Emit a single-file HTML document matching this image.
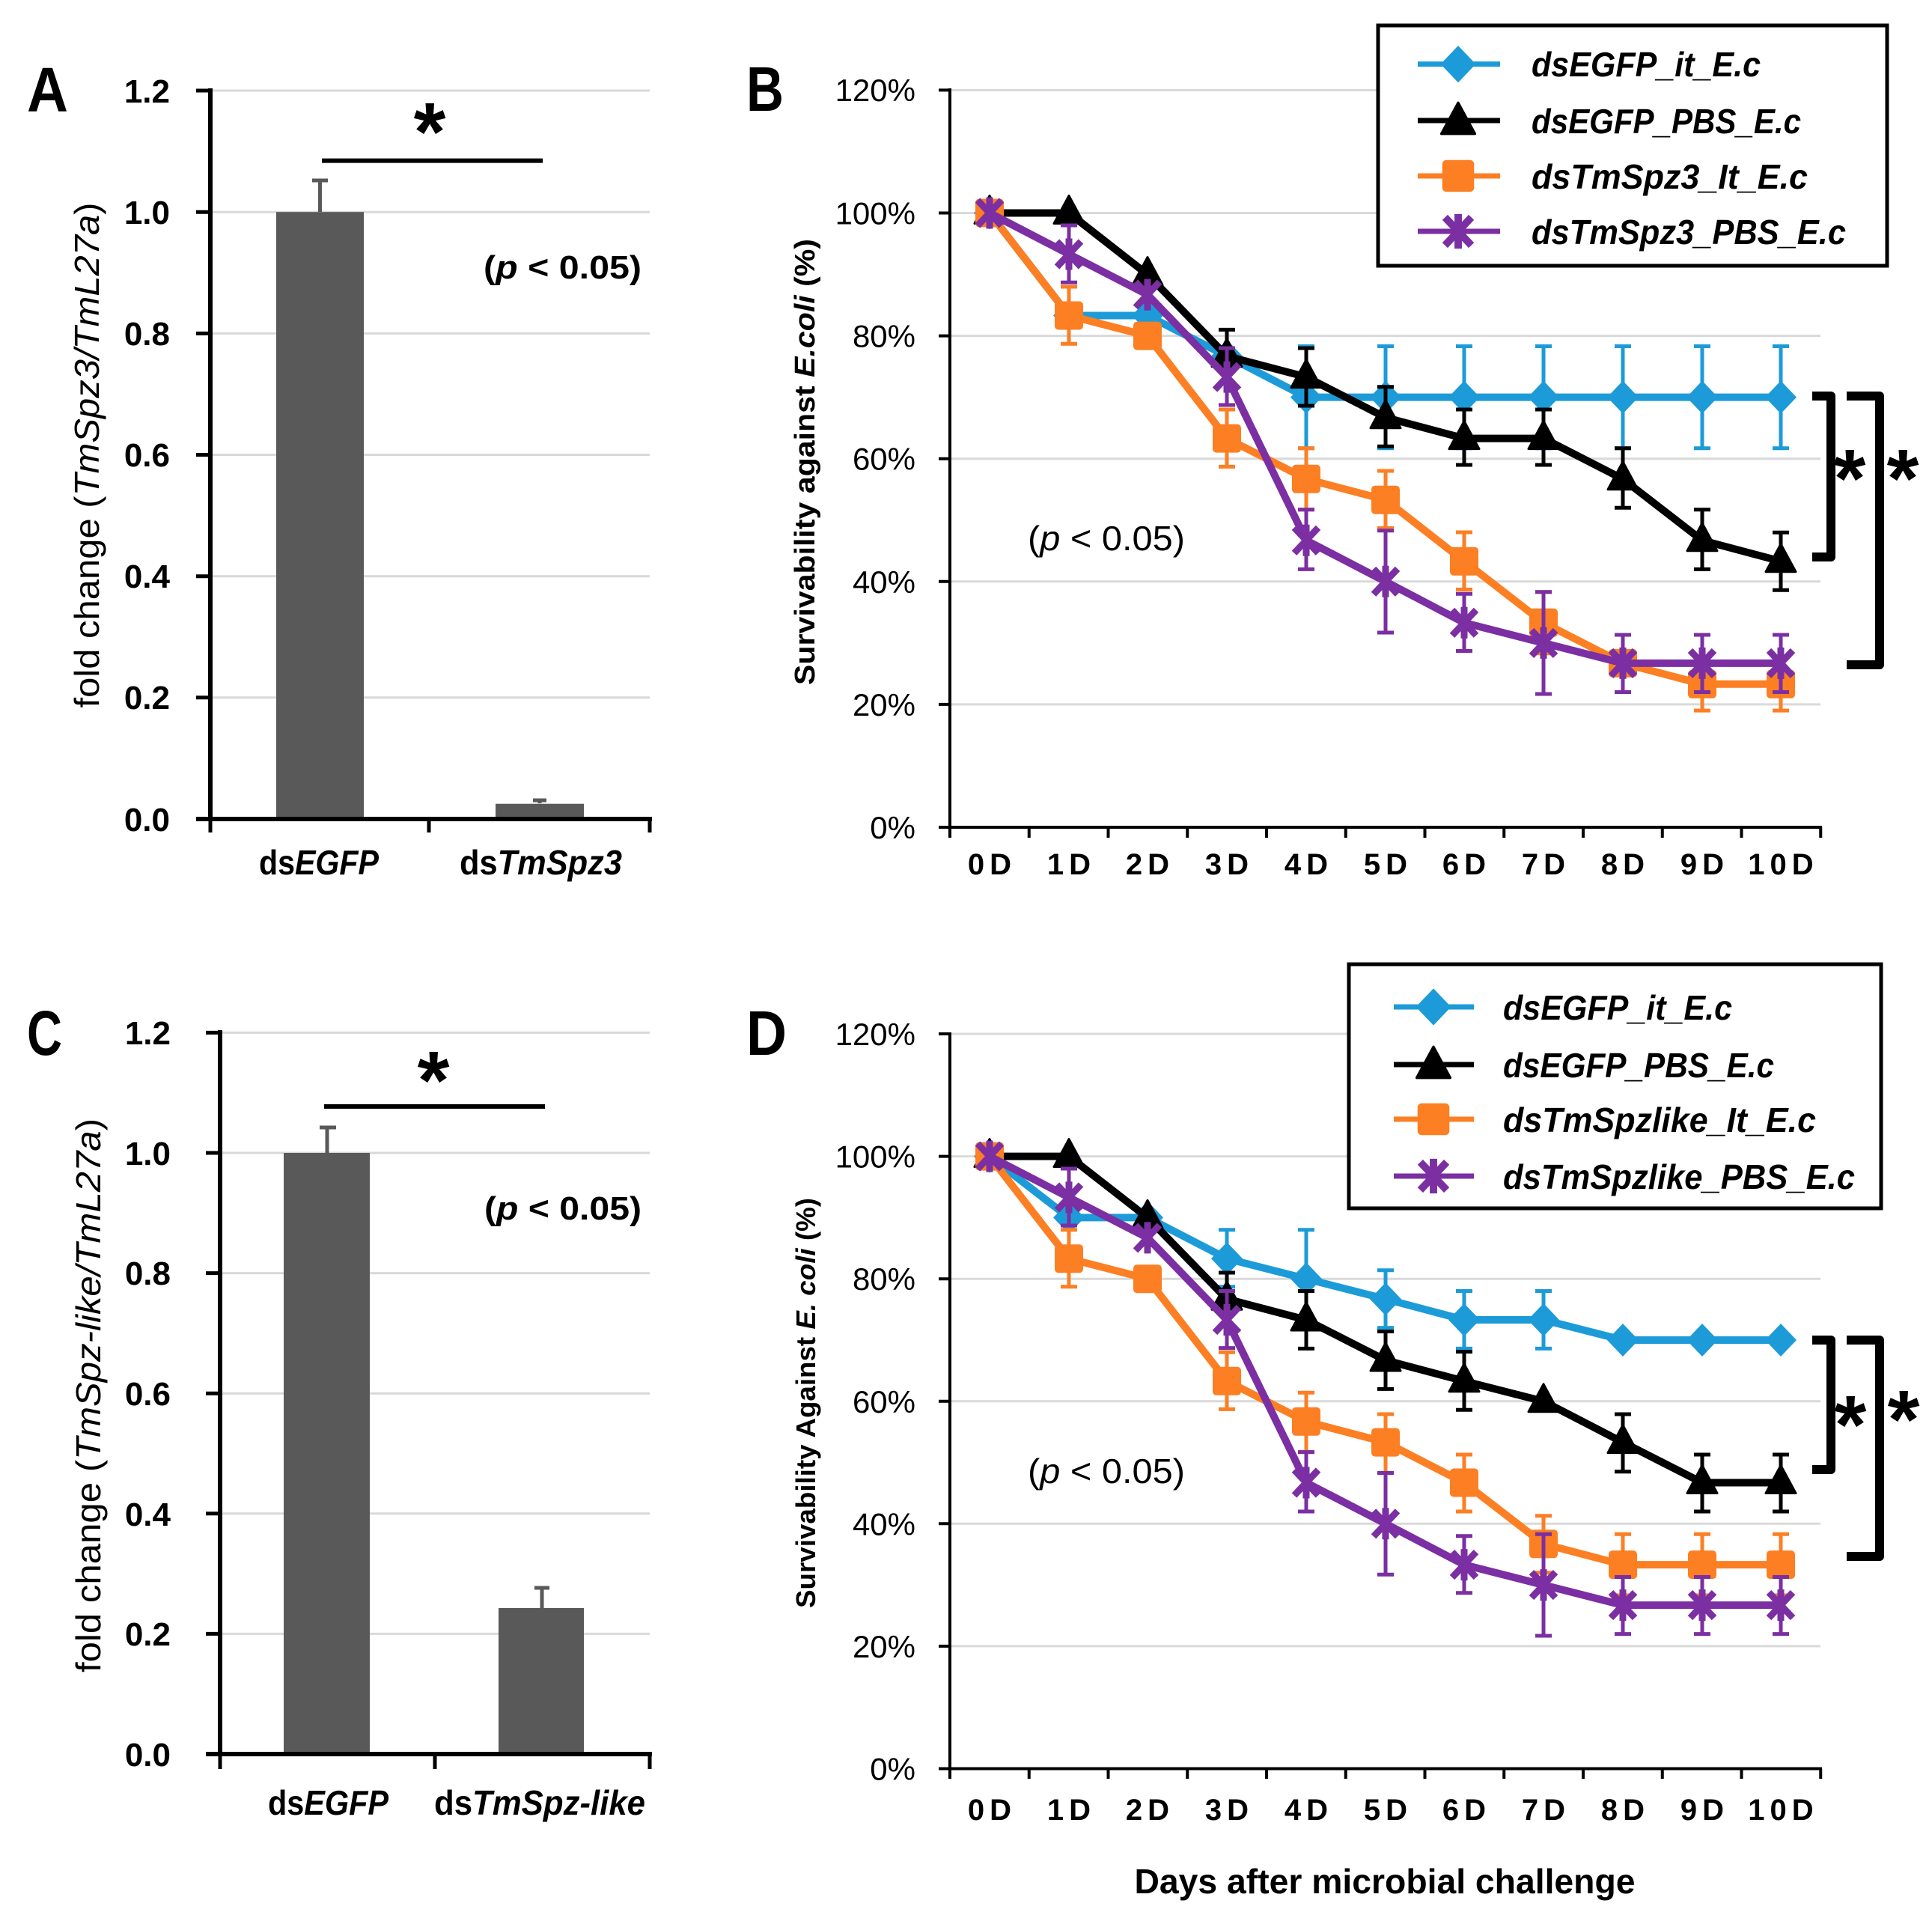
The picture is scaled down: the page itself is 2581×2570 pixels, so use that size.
<!DOCTYPE html>
<html><head><meta charset="utf-8"><style>
html,body{margin:0;padding:0;background:#fff}
svg{display:block}
text{font-family:"Liberation Sans",Arial,sans-serif}
</style></head><body>
<svg xmlns="http://www.w3.org/2000/svg" xmlns:xlink="http://www.w3.org/1999/xlink" width="2581" height="2570" viewBox="0 0 2581 2570">
<rect width="2581" height="2570" fill="#fff"/>
<defs>
<path id="mC" d="M0,-22 L21,0 L0,22 L-21,0Z" fill="#1d9bd8"/>
<path id="mK" d="M0,-23 L20,14 L-20,14Z" fill="#000" stroke="#000" stroke-width="3" stroke-linejoin="round"/>
<rect id="mO" x="-19" y="-19" width="38" height="38" rx="5" fill="#fc7f24"/>
<path id="mP" d="M-16,-17L16,17M16,-17L-16,17M0,-21V21" stroke="#7b2fa2" stroke-width="9" fill="none"/>
</defs>

<!-- ================= PANEL A ================= -->
<g stroke="#d9d9d9" stroke-width="3">
<line x1="281" y1="121" x2="868" y2="121"/>
<line x1="281" y1="283.2" x2="868" y2="283.2"/>
<line x1="281" y1="445.4" x2="868" y2="445.4"/>
<line x1="281" y1="607.5" x2="868" y2="607.5"/>
<line x1="281" y1="769.7" x2="868" y2="769.7"/>
<line x1="281" y1="931.8" x2="868" y2="931.8"/>
</g>
<rect x="369" y="283.2" width="117" height="810.8" fill="#595959"/>
<rect x="662" y="1073.7" width="118" height="20.3" fill="#595959"/>
<path d="M427.5,283V241M417,241H438M721,1073V1069M712,1069H730" stroke="#595959" stroke-width="5" fill="none"/>
<g stroke="#000" fill="none">
<line x1="281" y1="118" x2="281" y2="1097" stroke-width="6"/>
<path d="M262,121H281M262,283.2H281M262,445.4H281M262,607.5H281M262,769.7H281M262,931.8H281" stroke-width="5"/>
<line x1="262" y1="1094" x2="871" y2="1094" stroke-width="6"/>
<path d="M281,1094V1112M573,1094V1112M868,1094V1112" stroke-width="5"/>
<line x1="430" y1="214.6" x2="725" y2="214.6" stroke-width="6"/>
</g>
<g font-size="44" font-weight="bold" text-anchor="end" fill="#000">
<text x="227" y="137">1.2</text>
<text x="227" y="299">1.0</text>
<text x="227" y="461">0.8</text>
<text x="227" y="623">0.6</text>
<text x="227" y="785">0.4</text>
<text x="227" y="947">0.2</text>
<text x="227" y="1110">0.0</text>
</g>
<text x="574" y="214" font-size="110" font-weight="bold" text-anchor="middle">*</text>
<text x="646" y="372" font-size="44" font-weight="bold" textLength="211" lengthAdjust="spacingAndGlyphs">(<tspan font-style="italic">p</tspan> &lt; 0.05)</text>
<text x="346" y="1168" font-size="46" font-weight="bold" textLength="160" lengthAdjust="spacingAndGlyphs">ds<tspan font-style="italic">EGFP</tspan></text>
<text x="614" y="1168" font-size="46" font-weight="bold" textLength="217" lengthAdjust="spacingAndGlyphs">ds<tspan font-style="italic">TmSpz3</tspan></text>
<text transform="translate(132,608) rotate(-90)" font-size="46" text-anchor="middle" textLength="675" lengthAdjust="spacingAndGlyphs">fold change (<tspan font-style="italic">TmSpz3/TmL27a</tspan>)</text>
<text x="36" y="149" font-size="84" font-weight="bold" textLength="55" lengthAdjust="spacingAndGlyphs">A</text>

<!-- ================= PANEL C ================= -->
<g stroke="#d9d9d9" stroke-width="3">
<line x1="294" y1="1379.4" x2="868" y2="1379.4"/>
<line x1="294" y1="1540" x2="868" y2="1540"/>
<line x1="294" y1="1700.6" x2="868" y2="1700.6"/>
<line x1="294" y1="1861.2" x2="868" y2="1861.2"/>
<line x1="294" y1="2021.8" x2="868" y2="2021.8"/>
<line x1="294" y1="2182.4" x2="868" y2="2182.4"/>
</g>
<rect x="379" y="1540" width="115" height="803" fill="#595959"/>
<rect x="666" y="2148" width="114" height="195" fill="#595959"/>
<path d="M437,1540V1506M427,1506H449M724,2148V2121M714,2121H734" stroke="#595959" stroke-width="5" fill="none"/>
<g stroke="#000" fill="none">
<line x1="294" y1="1376" x2="294" y2="2346" stroke-width="6"/>
<path d="M275,1379.4H294M275,1540H294M275,1700.6H294M275,1861.2H294M275,2021.8H294M275,2182.4H294" stroke-width="5"/>
<line x1="275" y1="2343" x2="871" y2="2343" stroke-width="6"/>
<path d="M294,2343V2363M581,2343V2363M868,2343V2363" stroke-width="5"/>
<line x1="433" y1="1478" x2="728" y2="1478" stroke-width="6"/>
</g>
<g font-size="44" font-weight="bold" text-anchor="end" fill="#000">
<text x="228" y="1395">1.2</text>
<text x="228" y="1556">1.0</text>
<text x="228" y="1716">0.8</text>
<text x="228" y="1877">0.6</text>
<text x="228" y="2038">0.4</text>
<text x="228" y="2198">0.2</text>
<text x="228" y="2359">0.0</text>
</g>
<text x="579" y="1481" font-size="110" font-weight="bold" text-anchor="middle">*</text>
<text x="647" y="1629" font-size="44" font-weight="bold" textLength="210" lengthAdjust="spacingAndGlyphs">(<tspan font-style="italic">p</tspan> &lt; 0.05)</text>
<text x="358" y="2424" font-size="46" font-weight="bold" textLength="161" lengthAdjust="spacingAndGlyphs">ds<tspan font-style="italic">EGFP</tspan></text>
<text x="580" y="2424" font-size="46" font-weight="bold" textLength="282" lengthAdjust="spacingAndGlyphs">ds<tspan font-style="italic">TmSpz-like</tspan></text>
<text transform="translate(134,1864) rotate(-90)" font-size="46" text-anchor="middle" textLength="740" lengthAdjust="spacingAndGlyphs">fold change (<tspan font-style="italic">TmSpz-like/TmL27a</tspan>)</text>
<text x="36" y="1409" font-size="84" font-weight="bold" textLength="47" lengthAdjust="spacingAndGlyphs">C</text>

<!-- ================= PANEL B ================= -->
<g stroke="#d9d9d9" stroke-width="3">
<line x1="1269" y1="120.4" x2="2432" y2="120.4"/>
<line x1="1269" y1="284.5" x2="2432" y2="284.5"/>
<line x1="1269" y1="448.6" x2="2432" y2="448.6"/>
<line x1="1269" y1="612.7" x2="2432" y2="612.7"/>
<line x1="1269" y1="776.8" x2="2432" y2="776.8"/>
<line x1="1269" y1="940.9" x2="2432" y2="940.9"/>
</g>
<g stroke="#000" fill="none">
<line x1="1269" y1="118" x2="1269" y2="1107" stroke-width="4"/>
<path d="M1254,120.4H1269M1254,284.5H1269M1254,448.6H1269M1254,612.7H1269M1254,776.8H1269M1254,940.9H1269" stroke-width="4"/>
<line x1="1254" y1="1105" x2="2434" y2="1105" stroke-width="4"/>
<path d="M1269,1105V1119M1374.75,1105V1119M1480.5,1105V1119M1586.25,1105V1119M1692,1105V1119M1797.75,1105V1119M1903.5,1105V1119M2009.25,1105V1119M2115,1105V1119M2220.75,1105V1119M2326.5,1105V1119M2432.25,1105V1119" stroke-width="4"/>
</g>
<g font-size="42" text-anchor="end">
<text x="1223" y="135">120%</text>
<text x="1223" y="299.5">100%</text>
<text x="1223" y="463.6">80%</text>
<text x="1223" y="627.7">60%</text>
<text x="1223" y="791.8">40%</text>
<text x="1223" y="955.9">20%</text>
<text x="1223" y="1120">0%</text>
</g>
<g font-size="40" font-weight="bold" text-anchor="middle" letter-spacing="7">
<text x="1325.5" y="1168">0D</text>
<text x="1431.5" y="1168">1D</text>
<text x="1536.5" y="1168">2D</text>
<text x="1642.5" y="1168">3D</text>
<text x="1748.5" y="1168">4D</text>
<text x="1854.5" y="1168">5D</text>
<text x="1959.5" y="1168">6D</text>
<text x="2065.5" y="1168">7D</text>
<text x="2171.5" y="1168">8D</text>
<text x="2277.5" y="1168">9D</text>
<text x="2382.5" y="1168">10D</text>
</g>
<text transform="translate(1088,617) rotate(-90)" font-size="38" font-weight="bold" text-anchor="middle" textLength="596" lengthAdjust="spacingAndGlyphs">Survivability against <tspan font-style="italic">E.coli</tspan> (%)</text>
<text x="1373" y="735" font-size="46" textLength="210" lengthAdjust="spacingAndGlyphs">(<tspan font-style="italic">p</tspan> &lt; 0.05)</text>
<text x="997" y="148" font-size="84" font-weight="bold" textLength="50" lengthAdjust="spacingAndGlyphs">B</text>

<!-- B series -->
<g fill="none" stroke-linejoin="round">
<polyline points="1322,284.5 1428,421.5 1533,421.5 1639,475.7 1745,530.6 1851,530.6 1956,530.6 2062,530.6 2168,530.6 2274,530.6 2379,530.6" stroke="#1d9bd8" stroke-width="10"/>
<path d="M1745,462.5V598.8M1734,462.5h22M1734,598.8h22M1851,462.5V598.8M1840,462.5h22M1840,598.8h22M1956,462.5V598.8M1945,462.5h22M1945,598.8h22M2062,462.5V598.8M2051,462.5h22M2051,598.8h22M2168,462.5V598.8M2157,462.5h22M2157,598.8h22M2274,462.5V598.8M2263,462.5h22M2263,598.8h22M2379,462.5V598.8M2368,462.5h22M2368,598.8h22" stroke="#1d9bd8" stroke-width="5"/>
</g>
<g>
<use xlink:href="#mC" x="1322" y="284.5"/><use xlink:href="#mC" x="1428" y="421.5"/><use xlink:href="#mC" x="1533" y="421.5"/><use xlink:href="#mC" x="1639" y="475.7"/><use xlink:href="#mC" x="1745" y="530.6"/><use xlink:href="#mC" x="1851" y="530.6"/><use xlink:href="#mC" x="1956" y="530.6"/><use xlink:href="#mC" x="2062" y="530.6"/><use xlink:href="#mC" x="2168" y="530.6"/><use xlink:href="#mC" x="2274" y="530.6"/><use xlink:href="#mC" x="2379" y="530.6"/>
</g>
<g fill="none" stroke-linejoin="round">
<polyline points="1322,284.5 1428,284.5 1533,366.6 1639,475.7 1745,503.6 1851,557.7 1956,585.6 2062,585.6 2168,639.8 2274,721.8 2379,749.7" stroke="#000" stroke-width="10"/>
<path d="M1639,440.4V511.8M1628,440.4h22M1745,465V542M1734,465h22M1734,542h22M1851,516.7V596.3M1840,516.7h22M1840,596.3h22M1956,547V621M1945,547h22M1945,621h22M2062,547V621M2051,547h22M2051,621h22M2168,598.8V678.3M2157,598.8h22M2157,678.3h22M2274,680.8V760.4M2263,680.8h22M2263,760.4h22M2379,711.2V788.3M2368,711.2h22M2368,788.3h22" stroke="#000" stroke-width="5"/>
</g>
<g>
<use xlink:href="#mK" x="1322" y="284.5"/><use xlink:href="#mK" x="1428" y="284.5"/><use xlink:href="#mK" x="1533" y="366.6"/><use xlink:href="#mK" x="1639" y="475.7"/><use xlink:href="#mK" x="1745" y="503.6"/><use xlink:href="#mK" x="1851" y="557.7"/><use xlink:href="#mK" x="1956" y="585.6"/><use xlink:href="#mK" x="2062" y="585.6"/><use xlink:href="#mK" x="2168" y="639.8"/><use xlink:href="#mK" x="2274" y="721.8"/><use xlink:href="#mK" x="2379" y="749.7"/>
</g>
<g fill="none" stroke-linejoin="round">
<polyline points="1322,284.5 1428,421.5 1533,448.6 1639,585.6 1745,639.8 1851,667.7 1956,749.7 2062,831.8 2168,885.9 2274,913.8 2379,913.8" stroke="#fc7f24" stroke-width="10"/>
<path d="M1428,383V459.3M1417,383h22M1417,459.3h22M1639,547V623.4M1628,547h22M1628,623.4h22M1745,598.8V680.8M1734,598.8h22M1734,680.8h22M1851,629V705.4M1840,629h22M1840,705.4h22M1956,711V787.5M1945,711h22M1945,787.5h22M2062,790.7V872.8M2051,790.7h22M2051,872.8h22M2168,848V924.5M2157,848h22M2157,924.5h22M2274,877.7V949.1M2263,877.7h22M2263,949.1h22M2379,877.7V949.1M2368,877.7h22M2368,949.1h22" stroke="#fc7f24" stroke-width="5"/>
</g>
<g>
<use xlink:href="#mO" x="1322" y="284.5"/><use xlink:href="#mO" x="1428" y="421.5"/><use xlink:href="#mO" x="1533" y="448.6"/><use xlink:href="#mO" x="1639" y="585.6"/><use xlink:href="#mO" x="1745" y="639.8"/><use xlink:href="#mO" x="1851" y="667.7"/><use xlink:href="#mO" x="1956" y="749.7"/><use xlink:href="#mO" x="2062" y="831.8"/><use xlink:href="#mO" x="2168" y="885.9"/><use xlink:href="#mO" x="2274" y="913.8"/><use xlink:href="#mO" x="2379" y="913.8"/>
</g>
<g fill="none" stroke-linejoin="round">
<polyline points="1322,284.5 1428,339.5 1533,393.6 1639,503.6 1745,721.8 1851,776.8 1956,831.8 2062,858.9 2168,885.9 2274,885.9 2379,885.9" stroke="#7b2fa2" stroke-width="10"/>
<path d="M1428,301V377.2M1417,301h22M1417,377.2h22M1639,465V541M1628,465h22M1628,541h22M1745,680.8V760.4M1734,680.8h22M1734,760.4h22M1851,708.7V845M1840,708.7h22M1840,845h22M1956,793.2V869.5M1945,793.2h22M1945,869.5h22M2062,790.7V927M2051,790.7h22M2051,927h22M2168,848V924.5M2157,848h22M2157,924.5h22M2274,848V924.5M2263,848h22M2263,924.5h22M2379,848V924.5M2368,848h22M2368,924.5h22" stroke="#7b2fa2" stroke-width="5"/>
</g>
<g>
<use xlink:href="#mP" x="1322" y="284.5"/><use xlink:href="#mP" x="1428" y="339.5"/><use xlink:href="#mP" x="1533" y="393.6"/><use xlink:href="#mP" x="1639" y="503.6"/><use xlink:href="#mP" x="1745" y="721.8"/><use xlink:href="#mP" x="1851" y="776.8"/><use xlink:href="#mP" x="1956" y="831.8"/><use xlink:href="#mP" x="2062" y="858.9"/><use xlink:href="#mP" x="2168" y="885.9"/><use xlink:href="#mP" x="2274" y="885.9"/><use xlink:href="#mP" x="2379" y="885.9"/>
</g>
<!-- B brackets -->
<path d="M2421,529H2446V744H2421M2467,529H2511V888H2467" stroke="#000" stroke-width="12" fill="none" stroke-linejoin="round"/>
<text x="2471" y="677" font-size="110" font-weight="bold" text-anchor="middle">*</text>
<text x="2542" y="677" font-size="110" font-weight="bold" text-anchor="middle">*</text>
<!-- B legend -->
<rect x="1841" y="34" width="680" height="321" fill="#fff" stroke="#000" stroke-width="5"/>
<path d="M1894,85.6H2004" stroke="#1d9bd8" stroke-width="7"/>
<path d="M1894,161H2004" stroke="#000" stroke-width="7"/>
<path d="M1894,235H2004" stroke="#fc7f24" stroke-width="7"/>
<path d="M1894,309H2004" stroke="#7b2fa2" stroke-width="7"/>
<use xlink:href="#mC" transform="translate(1948,85.6) scale(1.12)"/>
<use xlink:href="#mK" transform="translate(1948,163) scale(1.12)"/>
<use xlink:href="#mO" transform="translate(1948,235) scale(1.12)"/>
<use xlink:href="#mP" transform="translate(1948,309) scale(1.1)"/>
<g font-size="46" font-weight="bold" font-style="italic">
<text x="2046" y="102" textLength="306" lengthAdjust="spacingAndGlyphs">dsEGFP_it_E.c</text>
<text x="2046" y="178" textLength="360" lengthAdjust="spacingAndGlyphs">dsEGFP_PBS_E.c</text>
<text x="2046" y="252" textLength="369" lengthAdjust="spacingAndGlyphs">dsTmSpz3_It_E.c</text>
<text x="2046" y="326" textLength="420" lengthAdjust="spacingAndGlyphs">dsTmSpz3_PBS_E.c</text>
</g>

<!-- ================= PANEL D ================= -->
<g stroke="#d9d9d9" stroke-width="3">
<line x1="1269" y1="1381" x2="2432" y2="1381"/>
<line x1="1269" y1="1544.6" x2="2432" y2="1544.6"/>
<line x1="1269" y1="1708.2" x2="2432" y2="1708.2"/>
<line x1="1269" y1="1871.8" x2="2432" y2="1871.8"/>
<line x1="1269" y1="2035.3" x2="2432" y2="2035.3"/>
<line x1="1269" y1="2198.9" x2="2432" y2="2198.9"/>
</g>
<g stroke="#000" fill="none">
<line x1="1269" y1="1379" x2="1269" y2="2364.5" stroke-width="4"/>
<path d="M1254,1381H1269M1254,1544.6H1269M1254,1708.2H1269M1254,1871.8H1269M1254,2035.3H1269M1254,2198.9H1269" stroke-width="4"/>
<line x1="1254" y1="2362.5" x2="2434" y2="2362.5" stroke-width="4"/>
<path d="M1269,2362.5V2376M1374.75,2362.5V2376M1480.5,2362.5V2376M1586.25,2362.5V2376M1692,2362.5V2376M1797.75,2362.5V2376M1903.5,2362.5V2376M2009.25,2362.5V2376M2115,2362.5V2376M2220.75,2362.5V2376M2326.5,2362.5V2376M2432.25,2362.5V2376" stroke-width="4"/>
</g>
<g font-size="42" text-anchor="end">
<text x="1223" y="1396">120%</text>
<text x="1223" y="1559.6">100%</text>
<text x="1223" y="1723.2">80%</text>
<text x="1223" y="1886.8">60%</text>
<text x="1223" y="2050.3">40%</text>
<text x="1223" y="2213.9">20%</text>
<text x="1223" y="2377.5">0%</text>
</g>
<g font-size="40" font-weight="bold" text-anchor="middle" letter-spacing="7">
<text x="1325.5" y="2431">0D</text>
<text x="1431.5" y="2431">1D</text>
<text x="1536.5" y="2431">2D</text>
<text x="1642.5" y="2431">3D</text>
<text x="1748.5" y="2431">4D</text>
<text x="1854.5" y="2431">5D</text>
<text x="1959.5" y="2431">6D</text>
<text x="2065.5" y="2431">7D</text>
<text x="2171.5" y="2431">8D</text>
<text x="2277.5" y="2431">9D</text>
<text x="2382.5" y="2431">10D</text>
</g>
<text x="1850" y="2529" font-size="46" font-weight="bold" text-anchor="middle" textLength="669" lengthAdjust="spacingAndGlyphs">Days after microbial challenge</text>
<text transform="translate(1089,1874) rotate(-90)" font-size="36" font-weight="bold" text-anchor="middle" textLength="548" lengthAdjust="spacingAndGlyphs">Survivability Against <tspan font-style="italic">E. coli</tspan> (%)</text>
<text x="1373" y="1981" font-size="46" textLength="210" lengthAdjust="spacingAndGlyphs">(<tspan font-style="italic">p</tspan> &lt; 0.05)</text>
<text x="997" y="1409" font-size="84" font-weight="bold" textLength="54" lengthAdjust="spacingAndGlyphs">D</text>

<!-- D series -->
<g fill="none" stroke-linejoin="round">
<polyline points="1322,1544.6 1428,1626.4 1533,1626.4 1639,1681.2 1745,1708.2 1851,1735.2 1956,1763 2062,1763 2168,1790 2274,1790 2379,1790" stroke="#1d9bd8" stroke-width="10"/>
<path d="M1639,1642.7V1718.8M1628,1642.7h22M1628,1718.8h22M1745,1642.7V1773.6M1734,1642.7h22M1734,1773.6h22M1851,1696.7V1773.6M1840,1696.7h22M1840,1773.6h22M1956,1724.5V1801.4M1945,1724.5h22M1945,1801.4h22M2062,1724.5V1801.4M2051,1724.5h22M2051,1801.4h22" stroke="#1d9bd8" stroke-width="5"/>
</g>
<g>
<use xlink:href="#mC" x="1322" y="1544.6"/><use xlink:href="#mC" x="1428" y="1626.4"/><use xlink:href="#mC" x="1533" y="1626.4"/><use xlink:href="#mC" x="1639" y="1681.2"/><use xlink:href="#mC" x="1745" y="1708.2"/><use xlink:href="#mC" x="1851" y="1735.2"/><use xlink:href="#mC" x="1956" y="1763"/><use xlink:href="#mC" x="2062" y="1763"/><use xlink:href="#mC" x="2168" y="1790"/><use xlink:href="#mC" x="2274" y="1790"/><use xlink:href="#mC" x="2379" y="1790"/>
</g>
<g fill="none" stroke-linejoin="round">
<polyline points="1322,1544.6 1428,1544.6 1533,1626.4 1639,1735.2 1745,1763 1851,1817 1956,1844.8 2062,1871.8 2168,1926.6 2274,1980.5 2379,1980.5" stroke="#000" stroke-width="10"/>
<path d="M1639,1700V1771M1628,1700h22M1745,1724.5V1801.4M1734,1724.5h22M1734,1801.4h22M1851,1778.5V1855.4M1840,1778.5h22M1840,1855.4h22M1956,1805.5V1883.2M1945,1805.5h22M1945,1883.2h22M2168,1889V1965.8M2157,1889h22M2157,1965.8h22M2274,1943V2019M2263,1943h22M2263,2019h22M2379,1943V2019M2368,1943h22M2368,2019h22" stroke="#000" stroke-width="5"/>
</g>
<g>
<use xlink:href="#mK" x="1322" y="1544.6"/><use xlink:href="#mK" x="1428" y="1544.6"/><use xlink:href="#mK" x="1533" y="1626.4"/><use xlink:href="#mK" x="1639" y="1735.2"/><use xlink:href="#mK" x="1745" y="1763"/><use xlink:href="#mK" x="1851" y="1817"/><use xlink:href="#mK" x="1956" y="1844.8"/><use xlink:href="#mK" x="2062" y="1871.8"/><use xlink:href="#mK" x="2168" y="1926.6"/><use xlink:href="#mK" x="2274" y="1980.5"/><use xlink:href="#mK" x="2379" y="1980.5"/>
</g>
<g fill="none" stroke-linejoin="round">
<polyline points="1322,1544.6 1428,1681.2 1533,1708.2 1639,1844.8 1745,1898.8 1851,1926.6 1956,1980.5 2062,2062.3 2168,2090.1 2274,2090.1 2379,2090.1" stroke="#fc7f24" stroke-width="10"/>
<path d="M1428,1642.7V1718.8M1417,1642.7h22M1417,1718.8h22M1639,1806.3V1882.4M1628,1806.3h22M1628,1882.4h22M1745,1860.3V1939.6M1734,1860.3h22M1734,1939.6h22M1851,1889V1967.5M1840,1889h22M1840,1967.5h22M1956,1943V2019M1945,1943h22M1945,2019h22M2062,2024.7V2100.8M2051,2024.7h22M2051,2100.8h22M2168,2049.3V2131M2157,2049.3h22M2157,2131h22M2274,2049.3V2131M2263,2049.3h22M2263,2131h22M2379,2049.3V2131M2368,2049.3h22M2368,2131h22" stroke="#fc7f24" stroke-width="5"/>
</g>
<g>
<use xlink:href="#mO" x="1322" y="1544.6"/><use xlink:href="#mO" x="1428" y="1681.2"/><use xlink:href="#mO" x="1533" y="1708.2"/><use xlink:href="#mO" x="1639" y="1844.8"/><use xlink:href="#mO" x="1745" y="1898.8"/><use xlink:href="#mO" x="1851" y="1926.6"/><use xlink:href="#mO" x="1956" y="1980.5"/><use xlink:href="#mO" x="2062" y="2062.3"/><use xlink:href="#mO" x="2168" y="2090.1"/><use xlink:href="#mO" x="2274" y="2090.1"/><use xlink:href="#mO" x="2379" y="2090.1"/>
</g>
<g fill="none" stroke-linejoin="round">
<polyline points="1322,1544.6 1428,1599.4 1533,1653.4 1639,1763 1745,1980.5 1851,2035.3 1956,2090.1 2062,2117.1 2168,2144.1 2274,2144.1 2379,2144.1" stroke="#7b2fa2" stroke-width="10"/>
<path d="M1428,1561V1637M1417,1561h22M1417,1637h22M1639,1724.5V1800.6M1628,1724.5h22M1628,1800.6h22M1745,1939.6V2019M1734,1939.6h22M1734,2019h22M1851,1967.5V2103.2M1840,1967.5h22M1840,2103.2h22M1956,2051.7V2127.8M1945,2051.7h22M1945,2127.8h22M2062,2049.3V2185M2051,2049.3h22M2051,2185h22M2168,2106.5V2182.6M2157,2106.5h22M2157,2182.6h22M2274,2106.5V2182.6M2263,2106.5h22M2263,2182.6h22M2379,2106.5V2182.6M2368,2106.5h22M2368,2182.6h22" stroke="#7b2fa2" stroke-width="5"/>
</g>
<g>
<use xlink:href="#mP" x="1322" y="1544.6"/><use xlink:href="#mP" x="1428" y="1599.4"/><use xlink:href="#mP" x="1533" y="1653.4"/><use xlink:href="#mP" x="1639" y="1763"/><use xlink:href="#mP" x="1745" y="1980.5"/><use xlink:href="#mP" x="1851" y="2035.3"/><use xlink:href="#mP" x="1956" y="2090.1"/><use xlink:href="#mP" x="2062" y="2117.1"/><use xlink:href="#mP" x="2168" y="2144.1"/><use xlink:href="#mP" x="2274" y="2144.1"/><use xlink:href="#mP" x="2379" y="2144.1"/>
</g>
<!-- D brackets -->
<path d="M2421,1790H2446V1963H2421M2467,1790H2511V2079H2467" stroke="#000" stroke-width="12" fill="none" stroke-linejoin="round"/>
<text x="2472" y="1941" font-size="110" font-weight="bold" text-anchor="middle">*</text>
<text x="2543" y="1934" font-size="110" font-weight="bold" text-anchor="middle">*</text>
<!-- D legend -->
<rect x="1802" y="1288" width="711" height="326" fill="#fff" stroke="#000" stroke-width="5"/>
<path d="M1862,1345H1969" stroke="#1d9bd8" stroke-width="7"/>
<path d="M1862,1422H1969" stroke="#000" stroke-width="7"/>
<path d="M1862,1495H1969" stroke="#fc7f24" stroke-width="7"/>
<path d="M1862,1571H1969" stroke="#7b2fa2" stroke-width="7"/>
<use xlink:href="#mC" transform="translate(1915,1345) scale(1.12)"/>
<use xlink:href="#mK" transform="translate(1915,1424) scale(1.12)"/>
<use xlink:href="#mO" transform="translate(1915,1495) scale(1.12)"/>
<use xlink:href="#mP" transform="translate(1915,1571) scale(1.1)"/>
<g font-size="46" font-weight="bold" font-style="italic">
<text x="2008" y="1362" textLength="306" lengthAdjust="spacingAndGlyphs">dsEGFP_it_E.c</text>
<text x="2008" y="1439" textLength="362" lengthAdjust="spacingAndGlyphs">dsEGFP_PBS_E.c</text>
<text x="2008" y="1512" textLength="418" lengthAdjust="spacingAndGlyphs">dsTmSpzlike_It_E.c</text>
<text x="2008" y="1588" textLength="470" lengthAdjust="spacingAndGlyphs">dsTmSpzlike_PBS_E.c</text>
</g>
</svg>
</body></html>
